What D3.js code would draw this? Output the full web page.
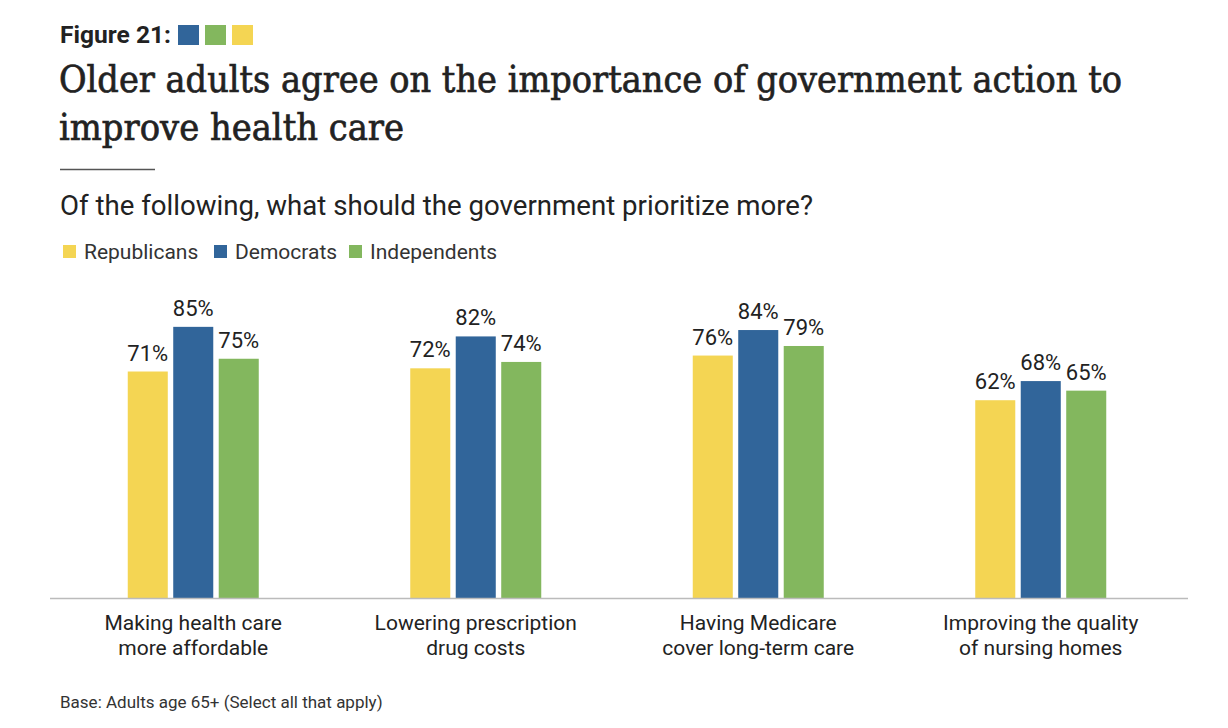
<!DOCTYPE html>
<html><head><meta charset="utf-8">
<script src="https://cdn.jsdelivr.net/npm/d3@7"></script>
<style>body{margin:0;background:#fff;} svg{display:block;}</style>
</head><body>
<svg id="c" width="1228" height="728"></svg>
<script>
const categories = [["Making health care","more affordable"],["Lowering prescription","drug costs"],["Having Medicare","cover long-term care"],["Improving the quality","of nursing homes"]];
const seriesNames = ["Republicans","Democrats","Independents"];
const republicans = [71,72,76,62];
const democrats = [85,82,84,68];
const independents = [75,74,79,65];
const colors = ["#F4D553","#31659A","#83B75E"];
const headerSwatches = ["#31659A","#83B75E","#F4D553"];

const svg = d3.select("#c");
const sans = "Roboto, 'Noto Sans', sans-serif";
const serif = "'DejaVu Serif', 'Liberation Serif', serif";

// Header
svg.append("text").attr("x",60).attr("y",43).attr("font-family",sans).attr("font-weight","bold").attr("font-size",23).attr("fill","#222").attr("textLength",111).attr("lengthAdjust","spacingAndGlyphs").text("Figure 21:");
headerSwatches.forEach((c,i)=>svg.append("rect").attr("x",178+i*27).attr("y",25).attr("width",21).attr("height",20).attr("fill",c));

svg.append("text").attr("x",59).attr("y",92).attr("font-family",serif).attr("font-size",37).attr("fill","#222").attr("stroke","#222").attr("stroke-width",0.7).attr("textLength",1063).attr("lengthAdjust","spacingAndGlyphs").text("Older adults agree on the importance of government action to");
svg.append("text").attr("x",59).attr("y",140).attr("font-family",serif).attr("font-size",37).attr("fill","#222").attr("stroke","#222").attr("stroke-width",0.7).attr("textLength",345).attr("lengthAdjust","spacingAndGlyphs").text("improve health care");
svg.append("line").attr("x1",60).attr("x2",155).attr("y1",169.5).attr("y2",169.5).attr("stroke","#555").attr("stroke-width",1.5);

svg.append("text").attr("x",60).attr("y",215).attr("font-family",sans).attr("font-size",27).attr("fill","#222").attr("textLength",753).attr("lengthAdjust","spacingAndGlyphs").text("Of the following, what should the government prioritize more?");

// Legend
const legX = [63,214,349];
seriesNames.forEach((n,i)=>{
  svg.append("rect").attr("x",legX[i]).attr("y",245).attr("width",13).attr("height",13).attr("fill",colors[i]);
  svg.append("text").attr("x",legX[i]+21).attr("y",259).attr("font-family",sans).attr("font-size",21).attr("fill","#333").text(n);
});

// Chart
const x0 = d3.scaleBand().domain(d3.range(categories.length)).range([52,1182]).padding(0);
const groupW = 131;
const x1 = d3.scaleBand().domain(d3.range(3)).range([0,groupW]).paddingInner(0.12).paddingOuter(0);
const y = d3.scaleLinear().domain([0,100]).range([598,279]);
const series = [republicans, democrats, independents];

const g = svg.append("g");
categories.forEach((cat,ci)=>{
  const cx = x0(ci) + x0.bandwidth()/2;
  const gx = cx - groupW/2;
  series.forEach((s,si)=>{
    const bx = gx + x1(si);
    g.append("rect").attr("x",bx).attr("y",y(s[ci])).attr("width",x1.bandwidth()).attr("height",y(0)-y(s[ci])).attr("fill",colors[si]);
    g.append("text").attr("x",bx+x1.bandwidth()/2).attr("y",y(s[ci])-11).attr("text-anchor","middle").attr("font-family",sans).attr("font-size",22).attr("fill","#222").text(s[ci]+"%");
  });
  const t = g.append("text").attr("text-anchor","middle").attr("font-family",sans).attr("font-size",21).attr("fill","#222");
  cat.forEach((line,li)=>t.append("tspan").attr("x",cx).attr("y",630+li*25).text(line));
});
svg.append("line").attr("x1",50).attr("x2",1188).attr("y1",598.5).attr("y2",598.5).attr("stroke","#bbb").attr("stroke-width",1.5);

svg.append("text").attr("x",60).attr("y",708).attr("font-family",sans).attr("font-size",17).attr("fill","#333").text("Base: Adults age 65+ (Select all that apply)");
</script>
</body></html>
